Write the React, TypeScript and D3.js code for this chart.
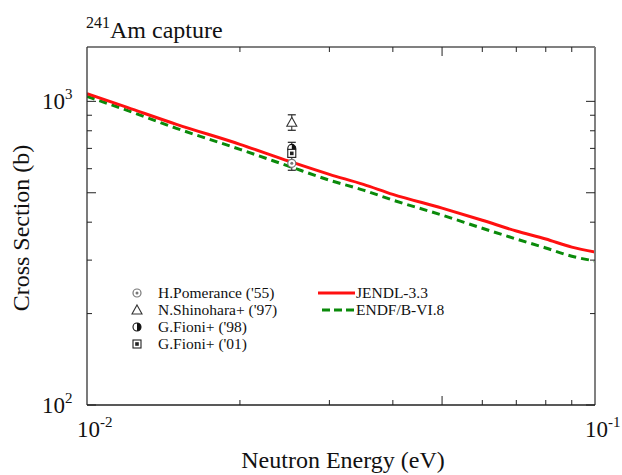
import * as d3 from 'd3'

// evaluated cross sections (eV, barn)
const energies = [0.01, 0.012, 0.015, 0.02, 0.025, 0.03, 0.035, 0.04, 0.05, 0.06, 0.07, 0.08, 0.09, 0.1]
const jendl = [1060, 955, 840, 722, 635, 575, 533, 494, 445, 406, 374, 352, 331, 319]
const endf = [1038, 934, 815, 695, 611, 550, 510, 473, 422, 382, 352, 329, 309, 298]

// measurements at thermal energy
const expNames = ["H.Pomerance ('55)", "N.Shinohara+ ('97)", "G.Fioni+ ('98)", "G.Fioni+ ('01)"]
const expKinds = ['dotCircle', 'triangle', 'halfCircle', 'boxSquare']
const expE = [0.0253, 0.0253, 0.0253, 0.0253]
const expSigma = [625, 853, 700, 674]
const expErr = [32, 50, 33, 20]

const xMajor = [0.01, 0.1]
const xMinor = [0.02, 0.03, 0.04, 0.05, 0.06, 0.07, 0.08, 0.09]
const yMajor = [100, 1000]
const yMinor = [200, 300, 400, 500, 600, 700, 800, 900]

const W = 622
const H = 475
const L = 87, R = 595, T = 47, B = 405

const x = d3.scaleLog().domain([0.01, 0.1]).range([L, R])
const y = d3.scaleLog().domain([100, 1510]).range([B, T])

const serif = "'Liberation Serif', 'DejaVu Serif', serif"

function Marker({ kind, cx, cy }: { kind: string; cx: number; cy: number }) {
  if (kind === 'dotCircle') {
    return (
      <g>
        <circle cx={cx} cy={cy} r={4} fill="white" stroke="#777" strokeWidth={1.2} />
        <circle cx={cx} cy={cy} r={1.5} fill="#777" />
      </g>
    )
  }
  if (kind === 'triangle') {
    return <path d={`M${cx},${cy - 5} L${cx + 5},${cy + 4} L${cx - 5},${cy + 4} Z`} fill="white" stroke="#333" strokeWidth={1.1} />
  }
  if (kind === 'halfCircle') {
    const r = 4
    return (
      <g>
        <circle cx={cx} cy={cy} r={r} fill="white" stroke="#111" strokeWidth={1.1} />
        <path d={`M${cx},${cy - r} A${r},${r} 0 0 1 ${cx},${cy + r} Z`} fill="#111" />
      </g>
    )
  }
  return (
    <g>
      <rect x={cx - 4} y={cy - 4} width={8} height={8} fill="white" stroke="#222" strokeWidth={1.1} />
      <rect x={cx - 1.8} y={cy - 1.8} width={3.6} height={3.6} fill="#222" />
    </g>
  )
}

export default function App() {
  const line = d3.line<number>()
    .x((_, i) => x(energies[i]))
    .y(d => y(d))
    .curve(d3.curveMonotoneX)

  return (
    <div style={{ position: 'fixed', left: 0, top: 0 }}>
      <svg width={W} height={H} style={{ display: 'block', background: 'white' }} fontFamily={serif}>
        <defs>
          <clipPath id="plot">
            <rect x={L} y={T} width={R - L} height={B - T} />
          </clipPath>
        </defs>

        {/* title */}
        <text x={86} y={38} fontSize={24} fill="#111">
          <tspan fontSize={16} dy={-10}>241</tspan>
          <tspan dy={10}>Am capture</tspan>
        </text>

        {/* curves */}
        <g clipPath="url(#plot)">
          <path d={line(endf) || ''} fill="none" stroke="#0a8a0a" strokeWidth={3} strokeDasharray="8,5" />
          <path d={line(jendl) || ''} fill="none" stroke="#ff1010" strokeWidth={3} />
        </g>

        {/* experimental points */}
        {expSigma.map((s, i) => {
          const cx = x(expE[i])
          const y0 = y(s + expErr[i])
          const y1 = y(s - expErr[i])
          return (
            <g key={i}>
              <line x1={cx} x2={cx} y1={y0} y2={y1} stroke="#222" strokeWidth={1} />
              <line x1={cx - 4} x2={cx + 4} y1={y0} y2={y0} stroke="#222" strokeWidth={1.2} />
              <line x1={cx - 4} x2={cx + 4} y1={y1} y2={y1} stroke="#222" strokeWidth={1.2} />
            </g>
          )
        })}
        {expSigma.map((s, i) => (
          <Marker key={i} kind={expKinds[i]} cx={x(expE[i])} cy={y(s)} />
        ))}

        {/* frame */}
        <line x1={L} x2={R} y1={T} y2={T} stroke="#808080" strokeWidth={2} />
        <line x1={R} x2={R} y1={T} y2={B} stroke="#808080" strokeWidth={2} />
        <line x1={L} x2={L} y1={T} y2={B} stroke="#333" strokeWidth={1.3} />
        <line x1={L} x2={R} y1={B} y2={B} stroke="#222" strokeWidth={1.3} />

        {/* x ticks */}
        {xMinor.map(v => {
          const len = v === 0.05 ? 9 : 5
          return (
            <g key={v}>
              <line x1={x(v)} x2={x(v)} y1={B} y2={B - len} stroke="#222" strokeWidth={1} />
              <line x1={x(v)} x2={x(v)} y1={T} y2={T + len} stroke="#222" strokeWidth={1} />
            </g>
          )
        })}
        {xMajor.map(v => (
          <text key={v} x={x(v) - 10} y={437} fontSize={23} fill="#111">
            10<tspan fontSize={15} dy={-10}>{v === 0.01 ? '-2' : '-1'}</tspan>
          </text>
        ))}

        {/* y ticks */}
        {yMinor.map(v => {
          const len = v === 500 ? 9 : 5
          return (
            <g key={v}>
              <line x1={L} x2={L + len} y1={y(v)} y2={y(v)} stroke="#222" strokeWidth={1} />
              <line x1={R} x2={R - len} y1={y(v)} y2={y(v)} stroke="#222" strokeWidth={1} />
            </g>
          )
        })}
        {yMajor.map(v => (
          <g key={v}>
            <line x1={L} x2={L + 9} y1={y(v)} y2={y(v)} stroke="#222" strokeWidth={1} />
            <line x1={R} x2={R - 9} y1={y(v)} y2={y(v)} stroke="#222" strokeWidth={1} />
            <text x={42} y={y(v) + 8} fontSize={23} fill="#111">
              10<tspan fontSize={15} dy={-10}>{v === 100 ? '2' : '3'}</tspan>
            </text>
          </g>
        ))}

        {/* axis titles */}
        <text x={343} y={468} fontSize={24} textAnchor="middle" fill="#111">Neutron Energy (eV)</text>
        <text transform="translate(29,228) rotate(-90)" fontSize={24} textAnchor="middle" fill="#111">Cross Section (b)</text>

        {/* legend: experiments */}
        {expNames.map((n, i) => (
          <g key={n}>
            <Marker kind={expKinds[i]} cx={137} cy={293 + i * 17} />
            <text x={158} y={293 + i * 17 + 5} fontSize={15.5} fill="#111">{n}</text>
          </g>
        ))}

        {/* legend: evaluations */}
        <line x1={318} x2={355} y1={293} y2={293} stroke="#ff1010" strokeWidth={3} />
        <text x={356} y={298} fontSize={15.5} fill="#111">JENDL-3.3</text>
        <line x1={322} x2={355} y1={310} y2={310} stroke="#0a8a0a" strokeWidth={3} strokeDasharray="8,4" />
        <text x={356} y={315} fontSize={15.5} fill="#111">ENDF/B-VI.8</text>
      </svg>
    </div>
  )
}
